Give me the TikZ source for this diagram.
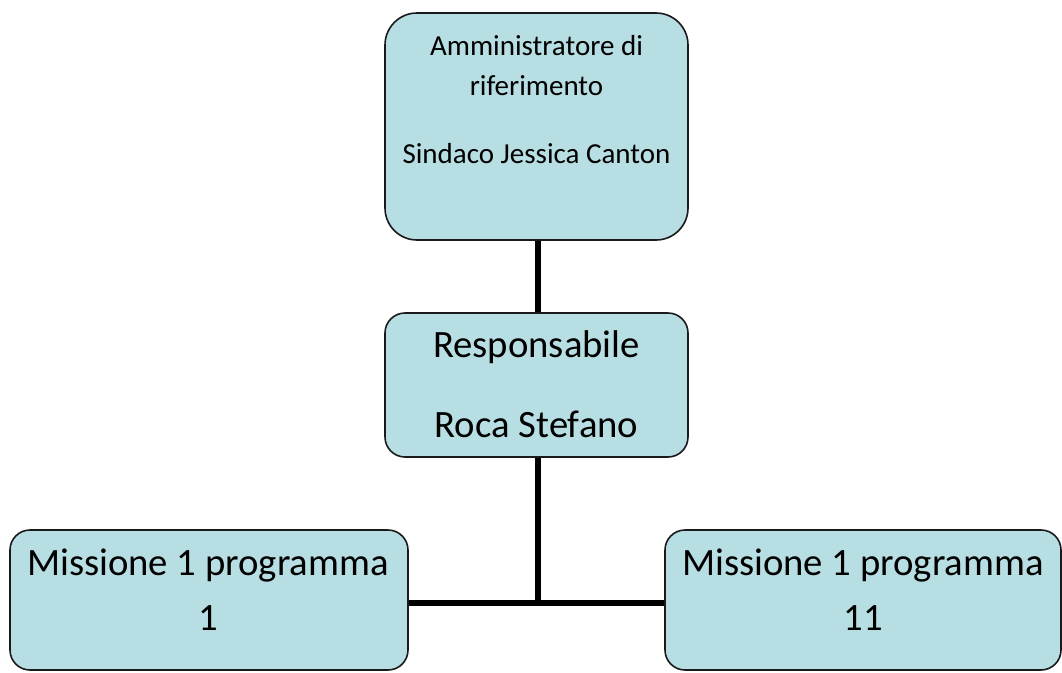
\documentclass[tikz,border=0pt]{standalone}
\usepackage{fontspec}
\setmainfont{Carlito}
\usetikzlibrary{backgrounds}
\definecolor{boxfill}{HTML}{B7DEE2}
\definecolor{boxline}{HTML}{1A1A1A}
\tikzset{
  orgbox/.style={draw=boxline, line width=1.6pt, fill=boxfill, inner sep=0pt},
  link/.style={line width=6pt, black},
  txt/.style={inner sep=0pt, anchor=base, text=black},
  small/.style={font=\fontsize{29}{29}\selectfont},
  big/.style={font=\fontsize{38.7}{38.7}\selectfont}
}
\begin{document}
\begin{tikzpicture}[x=1pt,y=-1pt]
\useasboundingbox (0,0) rectangle (1062,672);
% boxes
\node[orgbox, rounded corners=32pt, minimum width=303pt, minimum height=227pt] (top) at (536.5,126.5) {};
\node[orgbox, rounded corners=20pt, minimum width=303pt, minimum height=144pt] (mid) at (536.5,385) {};
\node[orgbox, rounded corners=20pt, minimum width=398pt, minimum height=140pt] (left) at (209,600) {};
\node[orgbox, rounded corners=20pt, minimum width=396pt, minimum height=140pt] (right) at (863,600) {};
% texts
\node[txt, small] (t1) at (536.5,55) {Amministratore di};
\node[txt, small] (t2) at (536.5,95) {riferimento};
\node[txt, small] (t3) at (536.5,163) {Sindaco Jessica Canton};
\node[txt, big] (m1) at (536.5,357) {Responsabile};
\node[txt, big] (m2) at (536.5,437) {Roca Stefano};
\node[txt, big] (l1) at (208,575) {Missione 1 programma};
\node[txt, big] (l2) at (208,630) {1};
\node[txt, big] (r1) at (863,575) {Missione 1 programma};
\node[txt, big] (r2) at (863,630) {11};
% connectors
\coordinate (j) at (538,603);
\begin{scope}[on background layer]
\draw[link] (top.south -| j) -- (mid.north -| j);
\draw[link] (mid.south -| j) -- (j);
\draw[link] (left.east |- j) -- (right.west |- j);
\end{scope}
\end{tikzpicture}
\end{document}
